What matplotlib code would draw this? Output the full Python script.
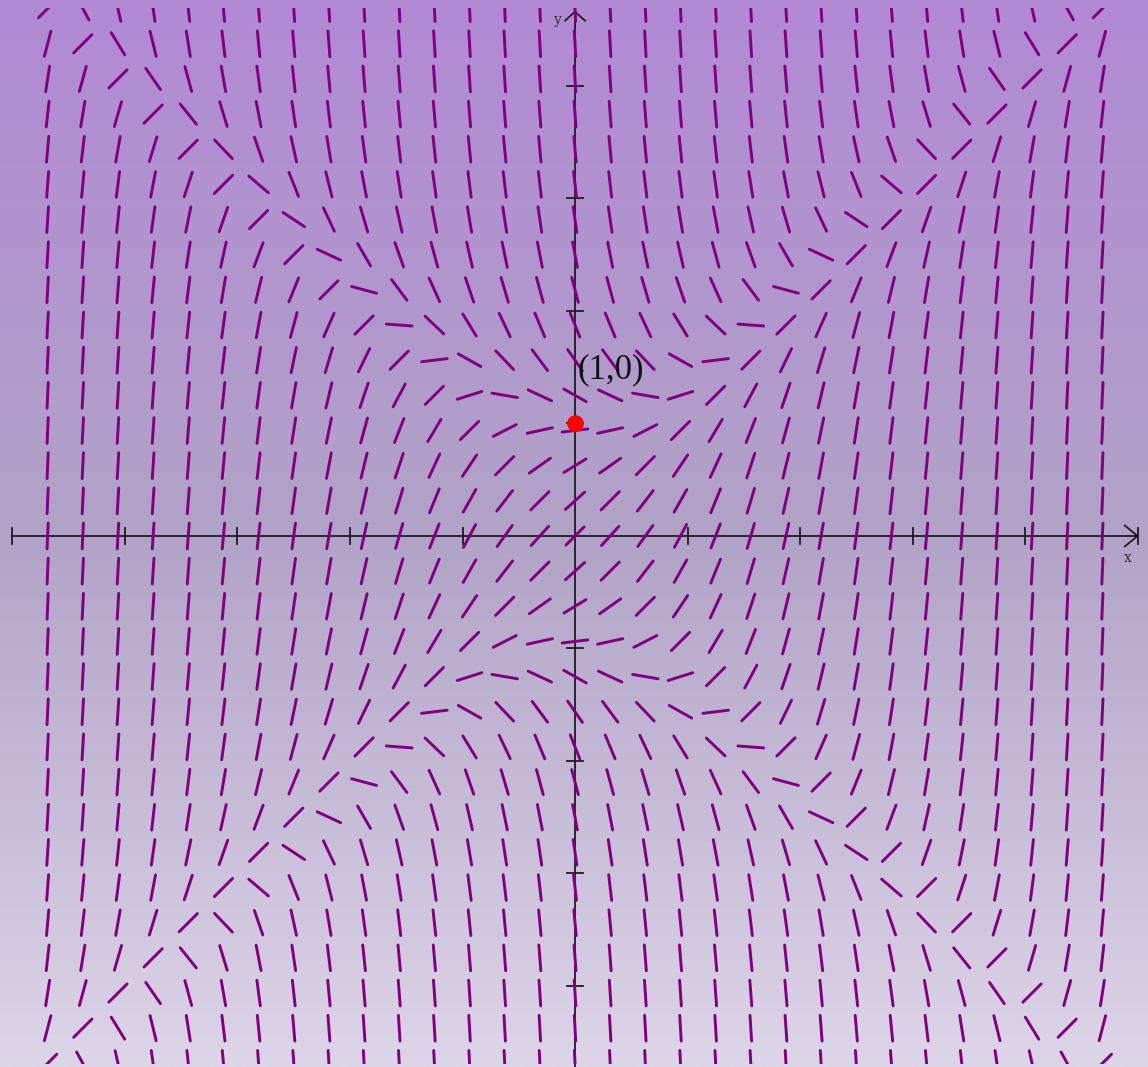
import numpy as np
import matplotlib
matplotlib.use("Agg")
import matplotlib.pyplot as plt
from matplotlib.collections import LineCollection
from matplotlib.patches import Rectangle

# --- datos del campo de pendientes: dy/dx = x^2 - y^2 + 1 ---
paso_malla = 0.3125          # separación entre segmentos
n_lado = 15                  # puntos a cada lado del origen
ticks_x = [-5, -4, -3, -2, -1, 1, 2, 3, 4, 5]
ticks_y = [-4, -3, -2, -1, 1, 2, 3, 4]
punto = (0.0, 1.0)
etiqueta_punto = "(1,0)"


def pendiente(x, y):
    return x ** 2 - y ** 2 + 1


# --- estilo ---
color_seg = "#800080"
color_eje = "#1e1a22"
largo_seg = 0.23             # longitud de cada segmento (unidades de datos)
lim_x = (-5.111, 5.093)
lim_y = (-4.72, 4.764)

fig = plt.figure(figsize=(11.48, 10.67), dpi=100)
ax = fig.add_axes([0, 0, 1, 1])
ax.set_xlim(*lim_x)
ax.set_ylim(*lim_y)
ax.axis("off")

# fondo degradado (morado arriba, lavanda claro abajo)
paradas = np.array([0.0, 0.5, 1.0])
colores = np.array([[178, 137, 213], [177, 163, 199], [221, 213, 232]]) / 255.0
t = np.linspace(0, 1, 512)
grad = np.stack([np.interp(t, paradas, colores[:, c]) for c in range(3)], axis=-1)
ax.imshow(grad[:, None, :], extent=[lim_x[0], lim_x[1], lim_y[0], lim_y[1]],
          aspect="auto", zorder=0, interpolation="bilinear")

# --- segmentos del campo ---
k = np.arange(-n_lado, n_lado + 1) * paso_malla
X, Y = np.meshgrid(k, k)
S = pendiente(X, Y)
ang = np.arctan(S)
dx = 0.5 * largo_seg * np.cos(ang)
dy = 0.5 * largo_seg * np.sin(ang)
segs = np.stack([np.stack([X - dx, Y - dy], axis=-1),
                 np.stack([X + dx, Y + dy], axis=-1)], axis=-2).reshape(-1, 2, 2)

lc = LineCollection(segs, colors=color_seg, linewidths=2.1, capstyle="round", zorder=3)
ax.add_collection(lc)
tope = n_lado * paso_malla + 0.005
recorte = Rectangle((-6, -tope), 12, 2 * tope, transform=ax.transData,
                    facecolor="none", edgecolor="none")
ax.add_patch(recorte)
lc.set_clip_path(recorte)

# --- ejes con flechas ---
lw_eje = 1.3
ax.plot([-5, 5], [0, 0], color=color_eje, lw=lw_eje, zorder=2)
ax.plot([0, 0], [lim_y[0], 4.66], color=color_eje, lw=lw_eje, zorder=2)
mt = 0.072
for tx in ticks_x:
    ax.plot([tx, tx], [-mt, mt], color=color_eje, lw=lw_eje, zorder=2)
for ty in ticks_y:
    ax.plot([-mt, mt], [ty, ty], color=color_eje, lw=lw_eje, zorder=2)
# flecha x
ax.plot([5 - 0.113, 5, 5 - 0.113], [0.093, 0, -0.093], color=color_eje, lw=lw_eje, zorder=2)
# flecha y
ax.plot([-0.089, 0, 0.089], [4.66 - 0.08, 4.66, 4.66 - 0.08], color=color_eje, lw=lw_eje, zorder=2)

ax.text(4.915, -0.196, "x", fontsize=10, family="DejaVu Serif", color="#333333",
        ha="center", va="center")
ax.text(-0.151, 4.59, "y", fontsize=10, family="DejaVu Serif", color="#333333",
        ha="center", va="center")

# punto marcado y su etiqueta
ax.plot([punto[0]], [punto[1]], "o", color="red", markersize=11, zorder=5)
ax.text(punto[0] + 0.02, 1.48, etiqueta_punto, fontsize=25, family="Liberation Serif",
        color="#111111", ha="left", va="center", zorder=6)

fig.savefig("out.png", dpi=100)
